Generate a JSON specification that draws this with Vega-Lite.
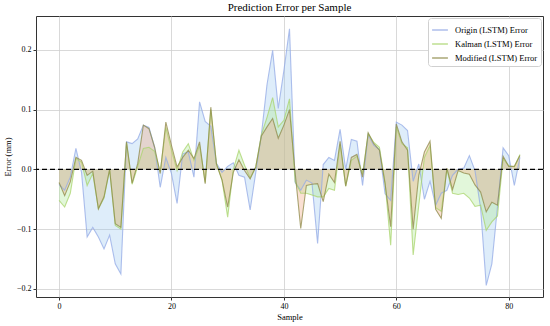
{
  "$schema": "https://vega.github.io/schema/vega-lite/v6.json",
  "width": 507,
  "height": 281,
  "autosize": {"type": "none"},
  "padding": {"left": 36, "top": 16, "right": 7, "bottom": 29},
  "background": "white",
  "title": {"text": "Prediction Error per Sample", "font": "Liberation Serif", "fontSize": 11, "fontWeight": "normal", "color": "#000", "offset": 3},
  "config": {
    "view": {"stroke": "#333", "strokeWidth": 1},
    "axis": {"labelFont": "Liberation Serif", "titleFont": "Liberation Serif", "labelFontSize": 8, "titleFontSize": 8.5, "titleFontWeight": "normal", "labelColor": "#000", "titleColor": "#000", "gridColor": "#cfcfcf", "gridWidth": 0.8, "tickColor": "#333", "domain": false, "tickSize": 3}
  },
  "datasets": {
    "err": [
      {"s":0,"o":-0.025,"k":-0.052,"m":-0.022},
      {"s":1,"o":-0.035,"k":-0.063,"m":-0.044},
      {"s":2,"o":-0.013,"k":-0.040,"m":-0.021},
      {"s":3,"o":0.035,"k":0.018,"m":0.020},
      {"s":4,"o":-0.005,"k":0.012,"m":0.015},
      {"s":5,"o":-0.113,"k":-0.027,"m":-0.010},
      {"s":6,"o":-0.097,"k":-0.007,"m":-0.003},
      {"s":7,"o":-0.113,"k":-0.066,"m":-0.066},
      {"s":8,"o":-0.133,"k":-0.048,"m":-0.046},
      {"s":9,"o":-0.110,"k":-0.001,"m":0.000},
      {"s":10,"o":-0.158,"k":-0.094,"m":-0.091},
      {"s":11,"o":-0.175,"k":-0.100,"m":-0.097},
      {"s":12,"o":0.046,"k":0.045,"m":0.046},
      {"s":13,"o":0.043,"k":-0.025,"m":-0.023},
      {"s":14,"o":0.051,"k":0.005,"m":0.010},
      {"s":15,"o":0.074,"k":0.035,"m":0.074},
      {"s":16,"o":0.070,"k":0.037,"m":0.068},
      {"s":17,"o":0.037,"k":0.030,"m":0.037},
      {"s":18,"o":-0.030,"k":-0.004,"m":-0.007},
      {"s":19,"o":0.020,"k":0.070,"m":0.079},
      {"s":20,"o":-0.007,"k":0.032,"m":0.040},
      {"s":21,"o":-0.057,"k":-0.002,"m":0.004},
      {"s":22,"o":0.026,"k":0.029,"m":0.020},
      {"s":23,"o":0.029,"k":0.043,"m":0.032},
      {"s":24,"o":-0.013,"k":0.015,"m":0.018},
      {"s":25,"o":0.113,"k":0.040,"m":0.046},
      {"s":26,"o":0.080,"k":-0.022,"m":-0.024},
      {"s":27,"o":0.072,"k":0.100,"m":0.104},
      {"s":28,"o":0.010,"k":0.009,"m":0.009},
      {"s":29,"o":-0.005,"k":-0.018,"m":-0.018},
      {"s":30,"o":0.005,"k":-0.080,"m":-0.063},
      {"s":31,"o":0.011,"k":0.000,"m":-0.005},
      {"s":32,"o":-0.010,"k":0.032,"m":0.016},
      {"s":33,"o":-0.013,"k":0.007,"m":-0.002},
      {"s":34,"o":-0.068,"k":-0.014,"m":-0.016},
      {"s":35,"o":-0.005,"k":0.004,"m":0.004},
      {"s":36,"o":0.058,"k":0.058,"m":0.056},
      {"s":37,"o":0.142,"k":0.087,"m":0.071},
      {"s":38,"o":0.199,"k":0.120,"m":0.085},
      {"s":39,"o":0.102,"k":0.071,"m":0.052},
      {"s":40,"o":0.165,"k":0.082,"m":0.074},
      {"s":41,"o":0.235,"k":0.118,"m":0.100},
      {"s":42,"o":-0.022,"k":-0.020,"m":-0.005},
      {"s":43,"o":-0.035,"k":-0.040,"m":-0.099},
      {"s":44,"o":-0.018,"k":-0.040,"m":-0.027},
      {"s":45,"o":-0.023,"k":-0.043,"m":-0.025},
      {"s":46,"o":-0.124,"k":-0.046,"m":-0.024},
      {"s":47,"o":0.008,"k":-0.046,"m":-0.054},
      {"s":48,"o":0.020,"k":-0.032,"m":-0.008},
      {"s":49,"o":0.015,"k":-0.035,"m":-0.022},
      {"s":50,"o":0.067,"k":0.042,"m":0.047},
      {"s":51,"o":0.000,"k":-0.028,"m":-0.028},
      {"s":52,"o":0.050,"k":0.015,"m":0.020},
      {"s":53,"o":0.047,"k":0.022,"m":0.025},
      {"s":54,"o":-0.027,"k":-0.008,"m":-0.013},
      {"s":55,"o":0.058,"k":0.060,"m":0.061},
      {"s":56,"o":0.040,"k":0.045,"m":0.043},
      {"s":57,"o":0.033,"k":0.037,"m":0.032},
      {"s":58,"o":-0.041,"k":-0.022,"m":-0.024},
      {"s":59,"o":-0.052,"k":-0.127,"m":-0.096},
      {"s":60,"o":0.079,"k":0.071,"m":0.076},
      {"s":61,"o":0.074,"k":0.043,"m":0.046},
      {"s":62,"o":0.065,"k":0.036,"m":0.032},
      {"s":63,"o":-0.020,"k":-0.143,"m":-0.100},
      {"s":64,"o":0.009,"k":-0.060,"m":-0.010},
      {"s":65,"o":-0.050,"k":0.020,"m":0.029},
      {"s":66,"o":-0.020,"k":0.040,"m":0.047},
      {"s":67,"o":-0.060,"k":-0.064,"m":-0.067},
      {"s":68,"o":-0.040,"k":-0.070,"m":-0.082},
      {"s":69,"o":-0.035,"k":0.000,"m":0.002},
      {"s":70,"o":-0.010,"k":-0.040,"m":-0.034},
      {"s":71,"o":0.000,"k":-0.042,"m":-0.002},
      {"s":72,"o":0.002,"k":-0.040,"m":-0.006},
      {"s":73,"o":0.023,"k":-0.048,"m":-0.008},
      {"s":74,"o":-0.002,"k":-0.062,"m":-0.026},
      {"s":75,"o":-0.065,"k":-0.060,"m":-0.038},
      {"s":76,"o":-0.194,"k":-0.102,"m":-0.071},
      {"s":77,"o":-0.158,"k":-0.088,"m":-0.055},
      {"s":78,"o":-0.063,"k":-0.078,"m":-0.060},
      {"s":79,"o":0.036,"k":0.018,"m":0.022},
      {"s":80,"o":0.023,"k":0.006,"m":0.005},
      {"s":81,"o":-0.027,"k":0.004,"m":0.005},
      {"s":82,"o":0.020,"k":0.025,"m":0.023}
    ]
  },
  "resolve": {"scale": {"fill": "independent", "stroke": "independent"}, "legend": {"fill": "independent", "stroke": "independent"}},
  "layer": [
    {
      "data": {"name": "err"},
      "transform": [{"fold": ["o", "k", "m"], "as": ["model", "error"]}],
      "mark": {"type": "area", "opacity": 0.33, "interpolate": "linear"},
      "encoding": {
        "x": {"field": "s", "type": "quantitative", "scale": {"domain": [-4.1, 86.1], "nice": false, "zero": false},
              "axis": {"values": [0, 20, 40, 60, 80], "title": "Sample", "titlePadding": 2, "labelPadding": 2, "grid": true}},
        "y": {"field": "error", "type": "quantitative", "stack": null, "scale": {"domain": [-0.2135, 0.2565], "nice": false, "zero": false},
              "axis": {"values": [-0.2, -0.1, 0, 0.1, 0.2], "format": ".1f", "labelExpr": "replace(datum.label, '-', '\u2212')", "title": "Error (mm)", "titlePadding": 4, "labelPadding": 2, "grid": true}},
        "y2": {"datum": 0},
        "fill": {"field": "model", "type": "nominal", "scale": {"domain": ["o", "k", "m"], "range": ["#9cc8f0", "#a8e890", "#f0a27a"]}, "legend": null}
      }
    },
    {
      "data": {"name": "err"},
      "transform": [{"fold": ["o", "k", "m"], "as": ["model", "error"]}],
      "mark": {"type": "line", "strokeWidth": 1.1, "opacity": 0.75, "interpolate": "linear"},
      "encoding": {
        "x": {"field": "s", "type": "quantitative"},
        "y": {"field": "error", "type": "quantitative"},
        "stroke": {"field": "model", "type": "nominal", "scale": {"domain": ["o", "k", "m"], "range": ["#93a9e6", "#a9d46c", "#8e8a48"]},
          "legend": {"title": null, "orient": "top-right", "offset": 2, "labelExpr": "datum.label == 'o' ? 'Origin (LSTM) Error' : datum.label == 'k' ? 'Kalman (LSTM) Error' : 'Modified (LSTM) Error'",
            "labelFont": "Liberation Serif", "labelFontSize": 8.5, "labelColor": "#000", "symbolType": "stroke", "symbolSize": 250, "symbolStrokeWidth": 1.5,
            "strokeColor": "#d0d0d0", "fillColor": "white", "cornerRadius": 3, "padding": 3, "rowPadding": 0, "labelOffset": 6}}
      }
    },
    {
      "data": {"values": [{"z": 0}]},
      "mark": {"type": "rule", "color": "#000", "strokeWidth": 1.4, "strokeDash": [5, 3]},
      "encoding": {"y": {"field": "z", "type": "quantitative"}}
    }
  ]
}
